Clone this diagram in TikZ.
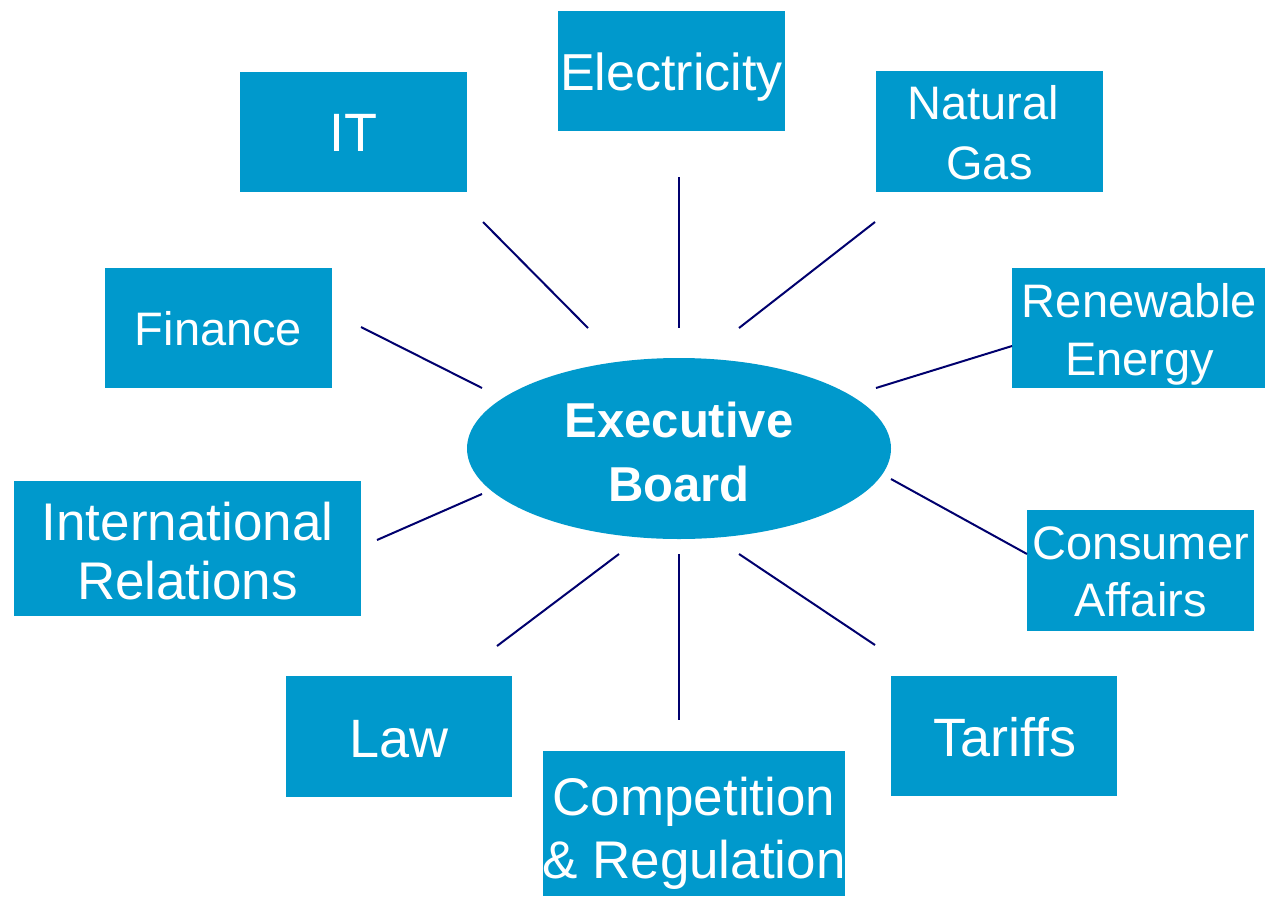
\documentclass[tikz,border=0pt]{standalone}
\usepackage{fontspec}
\setmainfont{Liberation Sans}
\usetikzlibrary{shapes.geometric}
\definecolor{boxblue}{RGB}{0,153,204}
\definecolor{linenavy}{RGB}{0,0,110}
\newcommand{\twolines}[2]{\begin{tabular}[t]{@{}c@{}}#1\\#2\end{tabular}}
\tikzset{
  box/.style={fill=boxblue, draw=none, inner sep=0pt, outer sep=0pt},
  lbl/.style 2 args={anchor=base, inner sep=0pt, outer sep=0pt, text=white, font=\fontsize{#1}{#2}\selectfont},
  spoke/.style={draw=linenavy, line width=2pt},
}
\begin{document}
\begin{tikzpicture}[x=1pt,y=-1pt]
\useasboundingbox (0,0) rectangle (1265,897);
\fill[white] (0,0) rectangle (1265,897);

% boxes
\node[box, minimum width=227pt, minimum height=120pt] (it) at (353.5,131.5) {};
\node[box, minimum width=227pt, minimum height=120pt] (elec) at (671.5,71) {};
\node[box, minimum width=227pt, minimum height=121pt] (gas) at (989.5,131.5) {};
\node[box, minimum width=227pt, minimum height=120pt] (fin) at (218.5,328) {};
\node[box, minimum width=253pt, minimum height=120pt] (ren) at (1138.5,328) {};
\node[box, minimum width=347pt, minimum height=135pt] (intl) at (187.5,548.5) {};
\node[box, minimum width=227pt, minimum height=121pt] (cons) at (1140.5,570.5) {};
\node[box, minimum width=226pt, minimum height=121pt] (law) at (399,736.5) {};
\node[box, minimum width=302pt, minimum height=145pt] (comp) at (694,823.5) {};
\node[box, minimum width=226pt, minimum height=120pt] (tar) at (1004,736) {};
\node[box, ellipse, minimum width=424pt, minimum height=181pt] (exec) at (679,448.5) {};

% labels
\node[lbl={54}{64}] (itT) at (353.5,151) {IT};
\node[lbl={52}{62}] (elecT) at (671.5,90) {Electricity};
\node[lbl={47}{60}] (gasT) at (989.5,119) {\twolines{Natural\kern13pt}{Gas}};
\node[lbl={47}{58}] (finT) at (218.5,345) {Finance};
\node[lbl={47}{58}] (renT) at (1139.5,317) {\twolines{Renewable}{Energy}};
\node[lbl={53}{59}] (intlT) at (187.5,540) {\twolines{International}{Relations}};
\node[lbl={47}{57}] (consT) at (1140.5,559) {\twolines{Consumer}{Affairs}};
\node[lbl={54}{64}] (lawT) at (399,757) {Law};
\node[lbl={53}{63}] (compT) at (694,815) {\twolines{Competition}{\&~Regulation}};
\node[lbl={54}{64}] (tarT) at (1005,756) {Tariffs};
\node[lbl={49}{64}, font=\fontsize{49}{64}\selectfont\bfseries] (execT) at (679,437) {\twolines{Executive}{Board}};

% spokes (free-floating segments)
\coordinate (s1a) at (483,222);   \coordinate (s1b) at (588,328);
\coordinate (s2a) at (679,177);   \coordinate (s2b) at (679,328);
\coordinate (s3a) at (875,222);   \coordinate (s3b) at (739,328);
\coordinate (s4a) at (361,327);   \coordinate (s4b) at (482,388);
\coordinate (s5a) at (1012,346);  \coordinate (s5b) at (876,388);
\coordinate (s6a) at (377,540);   \coordinate (s6b) at (482,494);
\coordinate (s7a) at (891,479);   \coordinate (s7b) at (1027,554);
\coordinate (s8a) at (497,646);   \coordinate (s8b) at (619,554);
\coordinate (s9a) at (679,554);   \coordinate (s9b) at (679,720);
\coordinate (s10a) at (739,554);  \coordinate (s10b) at (875,645);
\foreach \i in {1,...,10} {\draw[spoke] (s\i a) -- (s\i b);}
\end{tikzpicture}
\end{document}
